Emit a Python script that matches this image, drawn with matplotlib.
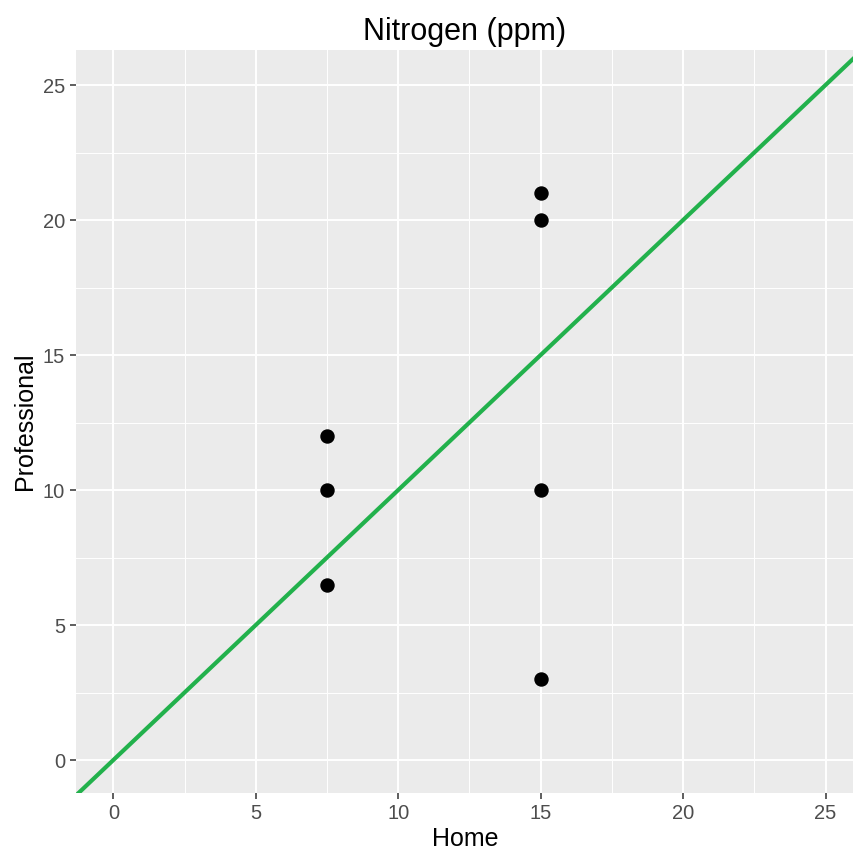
import matplotlib
matplotlib.use("Agg")
import matplotlib.pyplot as plt
import numpy as np

# Nitrogen readings: home test kit vs professional lab
home = [7.5, 7.5, 7.5, 15, 15, 15, 15]
professional = [12, 10, 6.5, 21, 20, 10, 3]
major_ticks = [0, 5, 10, 15, 20, 25]
minor_ticks = [2.5, 7.5, 12.5, 17.5, 22.5]

plt.rcParams['font.family'] = ['Liberation Sans', 'DejaVu Sans']

fig = plt.figure(figsize=(8.54, 8.61), dpi=100)
ax = fig.add_axes([0.089, 0.079, 0.911, 0.863])
ax.set_facecolor('#EBEBEB')

xlim = (-1.31, 26.0)
ylim = (-1.22, 26.3)
ax.set_xlim(xlim)
ax.set_ylim(ylim)

ax.set_xticks(major_ticks)
ax.set_yticks(major_ticks)
ax.set_xticks(minor_ticks, minor=True)
ax.set_yticks(minor_ticks, minor=True)
ax.grid(which='major', color='white', linewidth=1.4)
ax.grid(which='minor', color='white', linewidth=0.7)
ax.set_axisbelow(True)
for s in ax.spines.values():
    s.set_visible(False)

ax.tick_params(which='major', length=4, width=1.1, color='#333333',
               labelsize=14.5, labelcolor='#4D4D4D', pad=4)
ax.tick_params(which='minor', length=0)

# 1:1 reference line
line = np.array([-5, 30])
ax.plot(line, line, color='#22B14C', linewidth=3, zorder=2)

ax.scatter(home, professional, s=88, color='black', zorder=3)

ax.set_xlabel('Home', fontsize=18, labelpad=3)
ax.set_ylabel('Professional', fontsize=18, labelpad=4)
ax.set_title('Nitrogen (ppm)', fontsize=22, pad=7)

fig.savefig('out.png', dpi=100)
